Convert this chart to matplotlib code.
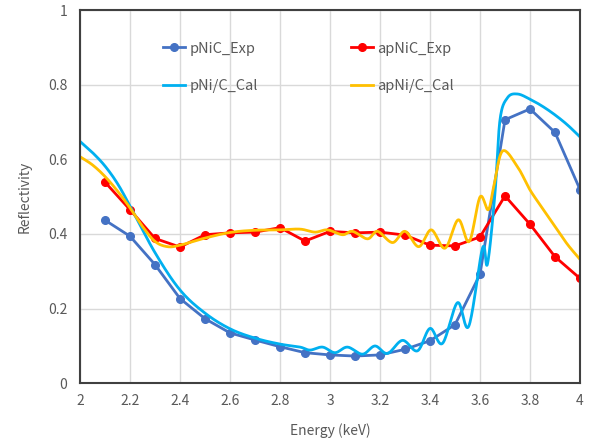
import numpy as np
import matplotlib
matplotlib.use("Agg")
import matplotlib.pyplot as plt
from matplotlib.ticker import FuncFormatter

plt.rcParams['font.family'] = ['Noto Sans CJK JP', 'DejaVu Sans']

# measured points
energy_exp = [2.1, 2.2, 2.3, 2.4, 2.5, 2.6, 2.7, 2.8, 2.9, 3.0,
              3.1, 3.2, 3.3, 3.4, 3.5, 3.6, 3.7, 3.8, 3.9, 4.0]
pnic_exp = [0.437, 0.394, 0.318, 0.227, 0.173, 0.135, 0.116, 0.098, 0.082, 0.076,
            0.073, 0.076, 0.091, 0.114, 0.157, 0.292, 0.706, 0.735, 0.672, 0.519]
apnic_exp = [0.539, 0.465, 0.388, 0.365, 0.398, 0.403, 0.405, 0.417, 0.381, 0.407,
             0.403, 0.405, 0.397, 0.370, 0.368, 0.392, 0.502, 0.426, 0.339, 0.281]

# calculated curves
energy_pcal = [2.0, 2.05, 2.1, 2.15, 2.2, 2.3, 2.4, 2.5, 2.6, 2.7, 2.8, 2.88, 2.92, 2.97,
               3.02, 3.07, 3.13, 3.18, 3.23, 3.29, 3.35, 3.40, 3.45, 3.51, 3.555, 3.61,
               3.63, 3.66, 3.68, 3.71, 3.75, 3.80, 3.85, 3.90, 3.95, 4.0]
pni_cal = [0.648, 0.618, 0.582, 0.535, 0.475, 0.350, 0.250, 0.188, 0.146, 0.121, 0.105,
           0.097, 0.089, 0.097, 0.082, 0.097, 0.078, 0.100, 0.080, 0.115, 0.087, 0.147,
           0.107, 0.216, 0.153, 0.362, 0.320, 0.510, 0.706, 0.765, 0.775, 0.761, 0.742,
           0.719, 0.692, 0.660]

energy_apcal = [2.0, 2.05, 2.1, 2.15, 2.2, 2.25, 2.3, 2.35, 2.4, 2.5, 2.6, 2.7, 2.8, 2.88,
                2.94, 2.99, 3.05, 3.09, 3.15, 3.19, 3.25, 3.30, 3.355, 3.405, 3.46, 3.513,
                3.557, 3.60, 3.633, 3.655, 3.69, 3.75, 3.80, 3.85, 3.90, 3.95, 4.0]
apni_cal = [0.607, 0.585, 0.554, 0.515, 0.470, 0.420, 0.380, 0.366, 0.370, 0.389, 0.404,
            0.410, 0.411, 0.413, 0.405, 0.411, 0.398, 0.407, 0.387, 0.407, 0.377, 0.407,
            0.366, 0.411, 0.362, 0.438, 0.380, 0.499, 0.465, 0.527, 0.622, 0.580, 0.518,
            0.469, 0.420, 0.372, 0.332]


def smooth(xs, ys, n=20):
    # catmull-rom, like excel's smoothed line
    p = np.column_stack([xs, ys])
    p = np.vstack([2 * p[0] - p[1], p, 2 * p[-1] - p[-2]])
    out = []
    t = np.linspace(0, 1, n, endpoint=False)[:, None]
    for i in range(1, len(p) - 2):
        p0, p1, p2, p3 = p[i - 1], p[i], p[i + 1], p[i + 2]
        seg = 0.5 * ((2 * p1) + (-p0 + p2) * t + (2 * p0 - 5 * p1 + 4 * p2 - p3) * t ** 2
                     + (-p0 + 3 * p1 - 3 * p2 + p3) * t ** 3)
        out.append(seg)
    out.append(p[-2][None, :])
    out = np.vstack(out)
    return out[:, 0], out[:, 1]


fig = plt.figure(figsize=(5.9, 4.45), dpi=100)
ax = fig.add_axes([80 / 590, 1 - 383.3 / 445, 500 / 590, 373.3 / 445])

h1, = ax.plot(energy_exp, pnic_exp, color='#4472C4', lw=2, marker='o', ms=5.5, label='pNiC_Exp')
h2, = ax.plot(energy_exp, apnic_exp, color='#FF0000', lw=2, marker='o', ms=5.5, label='apNiC_Exp')
sx, sy = smooth(energy_pcal, pni_cal)
h3, = ax.plot(sx, sy, color='#00B0F0', lw=2, label='pNi/C_Cal')
sx, sy = smooth(energy_apcal, apni_cal)
h4, = ax.plot(sx, sy, color='#FFC000', lw=2, label='apNi/C_Cal')

ax.set_xlim(2, 4)
ax.set_ylim(0, 1)
ax.set_xticks(np.arange(2, 4.01, 0.2))
ax.set_yticks(np.arange(0, 1.01, 0.2))
fmt = FuncFormatter(lambda v, pos: '%g' % round(v, 2))
ax.xaxis.set_major_formatter(fmt)
ax.yaxis.set_major_formatter(fmt)
ax.grid(True, color='#D9D9D9', lw=1)
ax.set_axisbelow(True)
ax.tick_params(length=0, labelsize=10, labelcolor='#595959')
ax.tick_params(axis='x', pad=8)
ax.tick_params(axis='y', pad=9)
for s in ax.spines.values():
    s.set_color('#404040')
    s.set_linewidth(1.5)

ax.set_xlabel('Energy (keV)', fontsize=10, color='#595959', labelpad=11)
ax.set_ylabel('Reflectivity', fontsize=10, color='#595959', labelpad=12)

leg = ax.legend([h1, h3, h2, h4], ['pNiC_Exp', 'pNi/C_Cal', 'apNiC_Exp', 'apNi/C_Cal'],
                ncol=2, loc='upper left', bbox_to_anchor=(0.152, 0.935), frameon=False,
                fontsize=10.5, handlelength=1.5, handletextpad=0.3, columnspacing=6.4,
                labelspacing=1.6, borderpad=0)
for t in leg.get_texts():
    t.set_color('#595959')

fig.savefig('out.png', dpi=100)
